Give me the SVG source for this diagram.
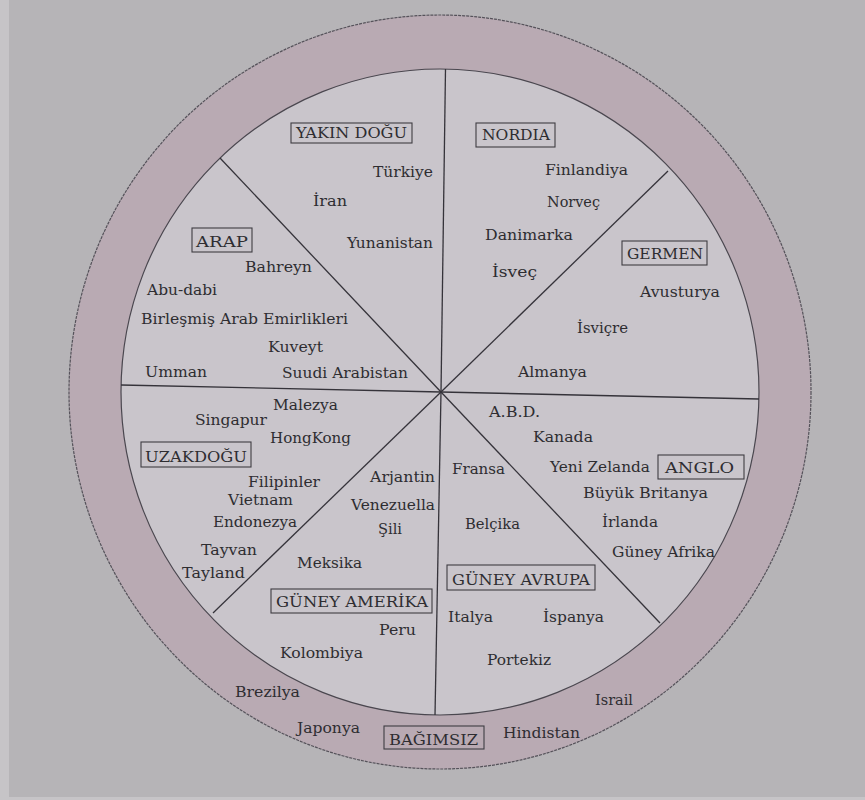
<svg xmlns="http://www.w3.org/2000/svg" width="865" height="800" viewBox="0 0 865 800">
<style>
text{font-family:"DejaVu Serif","Liberation Serif",serif;font-size:14.5px;fill:#2e2d31;lengthAdjust:spacingAndGlyphs}
.box{fill:none;stroke:#3e3c42;stroke-width:1.1}
.div{stroke:#35333a;stroke-width:1.3;fill:none}
</style>
<rect x="0" y="0" width="865" height="800" fill="#c6c4c7"/>
<rect x="9" y="0" width="856" height="797" fill="#b6b4b7"/>
<g id="ring">
<ellipse cx="440" cy="392" rx="371" ry="377" fill="#b9aab3" stroke="#55525a" stroke-width="1.2" stroke-dasharray="3 1"/>
<ellipse cx="440" cy="392" rx="319" ry="323" fill="#c9c5cb" stroke="#4a474f" stroke-width="1.2"/>
</g>
<g id="connectors">
<line class="div" x1="441" y1="392" x2="445.5" y2="69"/>
<line class="div" x1="441" y1="392" x2="435" y2="715"/>
<line class="div" x1="441" y1="392" x2="121" y2="385"/>
<line class="div" x1="441" y1="392" x2="759" y2="399"/>
<line class="div" x1="441" y1="392" x2="220" y2="158"/>
<line class="div" x1="441" y1="392" x2="668" y2="171"/>
<line class="div" x1="441" y1="392" x2="213" y2="613"/>
<line class="div" x1="441" y1="392" x2="660" y2="623"/>
</g>
<g id="yakin-dogu">
<rect class="box" x="291" y="123" width="121" height="20"/>
<text x="296" y="138" textLength="111" lengthAdjust="spacingAndGlyphs">YAKIN DOĞU</text>
<text x="373" y="177" textLength="60" lengthAdjust="spacingAndGlyphs">Türkiye</text>
<text x="313" y="206" textLength="34" lengthAdjust="spacingAndGlyphs">İran</text>
<text x="347" y="248" textLength="86" lengthAdjust="spacingAndGlyphs">Yunanistan</text>
</g>
<g id="arap">
<rect class="box" x="192" y="228" width="60" height="24"/>
<text x="196" y="247" textLength="52" lengthAdjust="spacingAndGlyphs">ARAP</text>
<text x="245" y="272" textLength="67" lengthAdjust="spacingAndGlyphs">Bahreyn</text>
<text x="147" y="295" textLength="70" lengthAdjust="spacingAndGlyphs">Abu-dabi</text>
<text x="141" y="324" textLength="207" lengthAdjust="spacingAndGlyphs">Birleşmiş Arab Emirlikleri</text>
<text x="268" y="352" textLength="55" lengthAdjust="spacingAndGlyphs">Kuveyt</text>
<text x="145" y="377" textLength="62" lengthAdjust="spacingAndGlyphs">Umman</text>
<text x="282" y="378" textLength="126" lengthAdjust="spacingAndGlyphs">Suudi Arabistan</text>
</g>
<g id="nordia">
<rect class="box" x="476" y="123" width="79" height="24"/>
<text x="482" y="140" textLength="68" lengthAdjust="spacingAndGlyphs">NORDIA</text>
<text x="545" y="175" textLength="83" lengthAdjust="spacingAndGlyphs">Finlandiya</text>
<text x="547" y="207" textLength="53" lengthAdjust="spacingAndGlyphs">Norveç</text>
<text x="485" y="240" textLength="88" lengthAdjust="spacingAndGlyphs">Danimarka</text>
<text x="492" y="277" textLength="45" lengthAdjust="spacingAndGlyphs">İsveç</text>
</g>
<g id="germen">
<rect class="box" x="622" y="241" width="85" height="24"/>
<text x="627" y="259" textLength="76" lengthAdjust="spacingAndGlyphs">GERMEN</text>
<text x="640" y="297" textLength="80" lengthAdjust="spacingAndGlyphs">Avusturya</text>
<text x="577" y="333" textLength="51" lengthAdjust="spacingAndGlyphs">İsviçre</text>
<text x="518" y="377" textLength="69" lengthAdjust="spacingAndGlyphs">Almanya</text>
</g>
<g id="uzakdogu">
<rect class="box" x="141" y="442" width="110" height="25"/>
<text x="145" y="462" textLength="102" lengthAdjust="spacingAndGlyphs">UZAKDOĞU</text>
<text x="273" y="410" textLength="65" lengthAdjust="spacingAndGlyphs">Malezya</text>
<text x="195" y="425" textLength="72" lengthAdjust="spacingAndGlyphs">Singapur</text>
<text x="270" y="443" textLength="81" lengthAdjust="spacingAndGlyphs">HongKong</text>
<text x="248" y="487" textLength="72" lengthAdjust="spacingAndGlyphs">Filipinler</text>
<text x="228" y="505" textLength="65" lengthAdjust="spacingAndGlyphs">Vietnam</text>
<text x="213" y="527" textLength="84" lengthAdjust="spacingAndGlyphs">Endonezya</text>
<text x="201" y="555" textLength="56" lengthAdjust="spacingAndGlyphs">Tayvan</text>
<text x="182" y="578" textLength="63" lengthAdjust="spacingAndGlyphs">Tayland</text>
</g>
<g id="guney-amerika">
<rect class="box" x="271" y="589" width="161" height="24"/>
<text x="276" y="607" textLength="152" lengthAdjust="spacingAndGlyphs">GÜNEY AMERİKA</text>
<text x="370" y="482" textLength="65" lengthAdjust="spacingAndGlyphs">Arjantin</text>
<text x="351" y="510" textLength="84" lengthAdjust="spacingAndGlyphs">Venezuella</text>
<text x="378" y="534" textLength="24" lengthAdjust="spacingAndGlyphs">Şili</text>
<text x="297" y="568" textLength="65" lengthAdjust="spacingAndGlyphs">Meksika</text>
<text x="379" y="635" textLength="37" lengthAdjust="spacingAndGlyphs">Peru</text>
<text x="280" y="658" textLength="83" lengthAdjust="spacingAndGlyphs">Kolombiya</text>
</g>
<g id="anglo">
<rect class="box" x="658" y="455" width="86" height="24"/>
<text x="665" y="473" textLength="69" lengthAdjust="spacingAndGlyphs">ANGLO</text>
<text x="489" y="417" textLength="51" lengthAdjust="spacingAndGlyphs">A.B.D.</text>
<text x="533" y="442" textLength="60" lengthAdjust="spacingAndGlyphs">Kanada</text>
<text x="550" y="472" textLength="100" lengthAdjust="spacingAndGlyphs">Yeni Zelanda</text>
<text x="583" y="498" textLength="125" lengthAdjust="spacingAndGlyphs">Büyük Britanya</text>
<text x="602" y="527" textLength="56" lengthAdjust="spacingAndGlyphs">İrlanda</text>
<text x="612" y="557" textLength="103" lengthAdjust="spacingAndGlyphs">Güney Afrika</text>
</g>
<g id="guney-avrupa">
<rect class="box" x="447" y="565" width="148" height="25"/>
<text x="452" y="585" textLength="138" lengthAdjust="spacingAndGlyphs">GÜNEY AVRUPA</text>
<text x="452" y="474" textLength="53" lengthAdjust="spacingAndGlyphs">Fransa</text>
<text x="465" y="529" textLength="55" lengthAdjust="spacingAndGlyphs">Belçika</text>
<text x="448" y="622" textLength="45" lengthAdjust="spacingAndGlyphs">Italya</text>
<text x="543" y="622" textLength="61" lengthAdjust="spacingAndGlyphs">İspanya</text>
<text x="487" y="665" textLength="64" lengthAdjust="spacingAndGlyphs">Portekiz</text>
</g>
<g id="bagimsiz">
<rect class="box" x="384" y="726" width="100" height="23"/>
<text x="389" y="745" textLength="89" lengthAdjust="spacingAndGlyphs">BAĞIMSIZ</text>
<text x="235" y="697" textLength="65" lengthAdjust="spacingAndGlyphs">Brezilya</text>
<text x="297" y="733" textLength="63" lengthAdjust="spacingAndGlyphs">Japonya</text>
<text x="595" y="705" textLength="38" lengthAdjust="spacingAndGlyphs">Israil</text>
<text x="503" y="738" textLength="77" lengthAdjust="spacingAndGlyphs">Hindistan</text>
</g>
</svg>
